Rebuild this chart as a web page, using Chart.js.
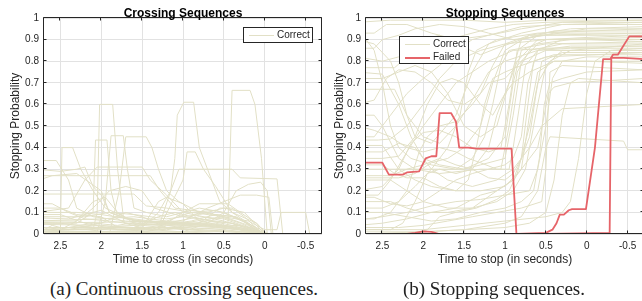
<!DOCTYPE html>
<html>
<head>
<meta charset="utf-8">
<script src="https://cdn.jsdelivr.net/npm/chart.js@4/dist/chart.umd.min.js"></script>
<style>
  body { margin: 0; width: 642px; height: 301px; background: #fff; position: relative; overflow: hidden;
         font-family: "Liberation Sans", Arial, sans-serif; }
  canvas { position: absolute; top: 0; }
  #crossChart { left: 0; }
  #stopChart { left: 322px; }
  .title { position: absolute; top: 6px; font-weight: bold; font-size: 12px; line-height: 14px; color: #000;
           transform: translateX(-50%); white-space: nowrap; }
  .legend { position: absolute; box-sizing: border-box; border: 1px solid #262626; background: #fff; }
  .legend .swatch { position: absolute; left: 5px; width: 25px; }
  .legend .txt { position: absolute; left: 33px; font-size: 10px; line-height: 12px; color: #262626; }
  .caption { position: absolute; top: 279px; font-family: "Liberation Serif", "DejaVu Serif", serif; font-size: 19px;
             line-height: 20px; color: #222; transform: translateX(-50%); white-space: nowrap; }
</style>
</head>
<body>
<canvas id="crossChart" width="324" height="272"></canvas>
<canvas id="stopChart" width="322" height="272"></canvas>

<div class="title" style="left:183px">Crossing Sequences</div>
<div class="title" style="left:505px">Stopping Sequences</div>

<div class="legend" style="left:243px; top:27px; width:70px; height:16px">
  <div class="swatch" style="top:7px; height:1px; background:rgb(226,224,198)"></div>
  <div class="txt" style="top:1px">Correct</div>
</div>
<div class="legend" style="left:399px; top:36px; width:70px; height:28px">
  <div class="swatch" style="top:7px; height:1px; background:rgb(226,224,198)"></div>
  <div class="txt" style="top:1px">Correct</div>
  <div class="swatch" style="top:20px; height:2px; background:rgb(230,100,105)"></div>
  <div class="txt" style="top:14px">Failed</div>
</div>

<div class="caption" style="left:184px">(a) Continuous crossing sequences.</div>
<div class="caption" style="left:494px">(b) Stopping sequences.</div>

<script>
// tick values
var xTicks = [2.5, 2, 1.5, 1, 0.5, 0, -0.5];
var yTicks = [0, 0.1, 0.2, 0.3, 0.4, 0.5, 0.6, 0.7, 0.8, 0.9, 1];

// crossing sequences, each one a list of [time, probability]
var crossCorrect = [
  [[2.8,0.02],[2.1,0.02],[2.05,0.1],[2.02,0.6],[1.86,0.6],[1.8,0.3],[1.72,0.05],[1.5,0.03],[1.0,0.03],[0.5,0.02],[0,0],[-0.7,0]],
  [[2.8,0.05],[2.3,0.05],[2.1,0.1],[2.07,0.435],[1.93,0.435],[1.88,0.2],[1.8,0.08],[1.4,0.06],[0.8,0.05],[0.3,0.03],[0.05,0],[-0.7,0]],
  [[2.8,0.01],[2.05,0.01],[1.95,0.15],[1.88,0.455],[1.73,0.455],[1.68,0.3],[1.6,0.12],[1.45,0.1],[1.2,0.08],[0.8,0.12],[0.5,0.1],[0.2,0.05],[0,0],[-0.7,0]],
  [[2.8,0],[1.9,0],[1.78,0.2],[1.7,0.45],[1.45,0.45],[1.38,0.4],[1.3,0.3],[1.2,0.2],[1.05,0.15],[0.8,0.1],[0.4,0.08],[0.1,0.03],[-0.05,0],[-0.7,0]],
  [[2.8,0],[2.5,0],[2.48,0.4],[2.35,0.4],[2.25,0.3],[2.1,0.2],[1.95,0.12],[1.6,0.06],[1.0,0.05],[0.4,0.03],[0,0],[-0.7,0]],
  [[2.8,0.03],[1.3,0.03],[1.15,0.2],[1.1,0.35],[1.07,0.55],[0.99,0.61],[0.87,0.61],[0.8,0.4],[0.65,0.25],[0.55,0.15],[0.4,0.1],[0.1,0.05],[-0.02,0],[-0.7,0]],
  [[2.8,0.01],[0.5,0.01],[0.45,0.05],[0.4,0.665],[0.18,0.665],[0.12,0.6],[0.04,0.35],[-0.03,0],[-0.7,0]],
  [[2.8,0.34],[2.55,0.34],[2.4,0.25],[2.3,0.12],[2.1,0.08],[1.7,0.06],[1.2,0.05],[0.6,0.04],[0.1,0.02],[0,0],[-0.7,0]],
  [[2.8,0.27],[1.4,0.27],[1.28,0.2],[1.1,0.12],[0.7,0.1],[0.3,0.05],[0,0],[-0.7,0]],
  [[2.8,0.245],[2.6,0.27],[2.3,0.28],[2.0,0.2],[1.9,0.1],[1.5,0.05],[0.6,0.05],[0.05,0],[-0.7,0]],
  [[2.8,0.185],[1.6,0.185],[1.45,0.13],[1.2,0.12],[0.9,0.1],[0.5,0.08],[0.2,0.04],[0,0],[-0.7,0]],
  [[2.8,0.1],[2.4,0.12],[2.2,0.25],[2.05,0.31],[1.5,0.31],[1.4,0.25],[1.2,0.18],[1.0,0.1],[0.5,0.06],[0,0],[-0.7,0]],
  [[2.8,0.02],[1.5,0.03],[1.3,0.1],[1.15,0.2],[1.05,0.3],[0.65,0.3],[0.4,0.3],[0.3,0.26],[-0.15,0.255],[-0.22,0],[-0.7,0]],
  [[2.8,0],[1.3,0.02],[1.0,0.25],[0.95,0.38],[0.85,0.38],[0.75,0.3],[0.6,0.22],[0.4,0.1],[0.2,0.05],[0,0],[-0.7,0]],
  [[2.8,0.05],[1.0,0.06],[0.7,0.12],[0.5,0.15],[0.3,0.18],[0.1,0.18],[-0.05,0.17],[-0.1,0],[-0.7,0]],
  [[2.8,0.02],[1.5,0.02],[1.0,0.05],[0.5,0.08],[0.2,0.06],[0,0.02],[-0.15,0.02],[-0.2,0.1],[-0.5,0.1],[-0.55,0],[-0.7,0]],
  [[2.8,0],[1.5,0],[1.2,0.05],[1.0,0.1],[0.8,0.14],[0.45,0.14],[0.3,0.1],[0.1,0.05],[-0.02,0],[-0.7,0]],
  [[2.8,0.08],[2.2,0.08],[1.9,0.1],[1.6,0.09],[1.2,0.07],[0.8,0.09],[0.5,0.12],[0.25,0.1],[0.05,0.02],[0,0],[-0.7,0]],
  [[2.8,0.06],[2.3,0.06],[2.1,0.12],[1.9,0.2],[1.7,0.22],[1.5,0.2],[1.35,0.12],[1.0,0.08],[0.4,0.05],[0,0],[-0.7,0]],
  [[2.8,0.1],[2.3,0.1],[2.0,0.09],[1.5,0.06],[1.0,0.05],[0.5,0.04],[0,0],[-0.7,0]],
  [[2.8,0.06],[2.0,0.07],[1.6,0.08],[1.2,0.06],[0.9,0.1],[0.6,0.11],[0.3,0.07],[0.05,0],[-0.7,0]],
  [[2.8,0.03],[2.4,0.03],[2.1,0.05],[1.8,0.04],[1.5,0.06],[1.2,0.05],[0.8,0.08],[0.5,0.07],[0.2,0.03],[0,0],[-0.7,0]],
  [[2.8,0.12],[2.5,0.12],[2.3,0.09],[2.0,0.08],[1.8,0.03],[1.2,0.02],[0.7,0.04],[0.3,0.02],[0,0],[-0.7,0]],
  [[2.8,0.02],[2.2,0.01],[1.8,0.03],[1.4,0.02],[1.0,0.04],[0.7,0.06],[0.4,0.05],[0.1,0.02],[0,0],[-0.7,0]],
  [[2.8,0],[2.6,0.04],[2.4,0.02],[2.0,0.05],[1.7,0.1],[1.5,0.08],[1.2,0.03],[0.8,0.02],[0.3,0.01],[0,0],[-0.7,0]],
  [[2.8,0.14],[2.6,0.14],[2.4,0.1],[2.2,0.07],[1.9,0.06],[1.5,0.04],[1.0,0.02],[0.5,0.01],[0,0],[-0.7,0]],
  [[2.8,0.075],[2.4,0.07],[2.0,0.11],[1.7,0.05],[1.3,0.04],[0.9,0.06],[0.6,0.09],[0.35,0.08],[0.1,0.02],[0,0],[-0.7,0]],
  [[2.8,0.01],[1.5,0.01],[1.1,0.03],[0.8,0.05],[0.55,0.12],[0.4,0.12],[0.25,0.08],[0.05,0.01],[0,0],[-0.7,0]],
  [[2.8,0.045],[2.0,0.04],[1.6,0.03],[1.3,0.08],[1.1,0.1],[0.8,0.07],[0.4,0.04],[0,0],[-0.7,0]],
  [[2.8,0.09],[2.5,0.09],[2.2,0.05],[1.8,0.02],[1.4,0.02],[1.0,0.01],[0.5,0],[-0.7,0]],
  [[2.8,0.02],[2.5,0.02],[2.3,0.06],[2.1,0.15],[1.95,0.17],[1.8,0.1],[1.6,0.05],[1.2,0.04],[0.6,0.03],[0.1,0.01],[0,0],[-0.7,0]],
  [[2.8,0.3],[2.5,0.29],[2.3,0.3],[2.2,0.31],[2.1,0.22],[2.0,0.18],[1.9,0.1],[1.7,0.07],[1.3,0.05],[0.8,0.04],[0.3,0.02],[0,0],[-0.7,0]],
  [[2.8,0],[1.6,0],[1.45,0.06],[1.3,0.15],[1.2,0.17],[1.0,0.14],[0.8,0.06],[0.4,0.03],[0.1,0],[-0.7,0]],
  [[2.8,0],[1.0,0.01],[0.7,0.05],[0.5,0.1],[0.35,0.2],[0.2,0.23],[0.05,0.24],[-0.03,0.2],[-0.08,0],[-0.7,0]],
  [[2.8,0.005],[1.8,0.01],[1.2,0.005],[0.6,0.015],[0.2,0.01],[0,0],[-0.7,0]],
  [[2.8,0.02],[2.2,0.035],[1.7,0.02],[1.3,0.03],[0.9,0.02],[0.5,0.03],[0.2,0.02],[0,0],[-0.7,0]],
  [[2.8,0.055],[2.5,0.05],[2.1,0.03],[1.6,0.04],[1.2,0.045],[0.7,0.035],[0.3,0.04],[0.1,0.02],[0,0],[-0.7,0]]
];

// stopping sequences that were classified right
var stopCorrect = [
  [[2.8,0.98],[2.4,0.99],[1.5,0.99],[1.0,0.98],[0.5,0.99],[-0.7,0.99]],
  [[2.8,0.93],[2.6,0.93],[2.45,0.97],[2.2,0.97],[1.9,0.93],[1.6,0.9],[1.2,0.92],[0.8,0.95],[0.3,0.98],[-0.7,0.98]],
  [[2.8,0.86],[2.6,0.86],[2.5,0.9],[2.3,0.92],[2.1,0.95],[1.8,0.97],[1.5,0.96],[1.2,0.93],[0.9,0.9],[0.5,0.92],[0,0.95],[-0.7,0.95]],
  [[2.8,0.77],[2.35,0.77],[2.2,0.82],[2.0,0.9],[1.8,0.92],[1.6,0.88],[1.3,0.83],[1.1,0.86],[0.8,0.9],[0.4,0.93],[-0.7,0.93]],
  [[2.8,0.75],[2.5,0.74],[2.3,0.6],[2.15,0.45],[2.0,0.35],[1.8,0.32],[1.5,0.3],[1.2,0.35],[1.0,0.45],[0.9,0.7],[0.8,0.85],[0.5,0.9],[0,0.9],[-0.7,0.89]],
  [[2.8,0.67],[2.35,0.67],[2.2,0.55],[2.0,0.45],[1.8,0.42],[1.6,0.5],[1.4,0.62],[1.2,0.75],[1.0,0.8],[0.6,0.85],[0.2,0.86],[-0.7,0.86]],
  [[2.8,0.55],[2.6,0.55],[2.5,0.5],[2.3,0.35],[2.1,0.3],[1.8,0.28],[1.3,0.3],[1.05,0.3],[0.95,0.5],[0.85,0.75],[0.7,0.85],[0.3,0.88],[-0.7,0.88]],
  [[2.8,0.435],[2.55,0.435],[2.4,0.44],[2.2,0.5],[2.0,0.6],[1.8,0.72],[1.6,0.8],[1.3,0.85],[1.0,0.88],[0.5,0.9],[0,0.91],[-0.7,0.92]],
  [[2.8,0.41],[2.5,0.41],[2.3,0.3],[2.1,0.25],[1.9,0.22],[1.6,0.2],[1.3,0.2],[1.0,0.22],[0.8,0.3],[0.7,0.55],[0.6,0.75],[0.4,0.8],[0,0.8],[-0.7,0.79]],
  [[2.8,0.3],[1.5,0.3],[1.3,0.32],[1.0,0.35],[0.9,0.55],[0.8,0.8],[0.6,0.88],[0.2,0.9],[-0.7,0.9]],
  [[2.8,0.26],[2.3,0.26],[2.1,0.28],[1.9,0.33],[1.7,0.35],[1.5,0.4],[1.3,0.5],[1.15,0.7],[1.0,0.85],[0.7,0.92],[0.2,0.95],[-0.7,0.96]],
  [[2.8,0.25],[2.4,0.25],[2.2,0.2],[2.0,0.15],[1.7,0.12],[1.4,0.12],[1.1,0.15],[0.9,0.2],[0.75,0.3],[0.6,0.6],[0.5,0.78],[0.3,0.85],[-0.7,0.85]],
  [[2.8,0.18],[2.55,0.18],[2.4,0.25],[2.2,0.38],[2.0,0.5],[1.8,0.6],[1.6,0.7],[1.4,0.75],[1.2,0.8],[0.9,0.85],[0.5,0.86],[-0.7,0.87]],
  [[2.8,0.15],[2.4,0.15],[2.2,0.12],[2.0,0.1],[1.7,0.1],[1.4,0.12],[1.1,0.2],[0.9,0.25],[0.8,0.35],[0.72,0.6],[0.65,0.8],[0.4,0.83],[-0.7,0.83]],
  [[2.8,0.065],[2.5,0.08],[2.2,0.1],[1.9,0.13],[1.6,0.15],[1.3,0.16],[1.0,0.18],[0.7,0.2],[0.6,0.3],[0.5,0.5],[0.42,0.72],[0.3,0.8],[0,0.82],[-0.7,0.82]],
  [[2.8,0.03],[2.3,0.03],[2.0,0.04],[1.7,0.06],[1.4,0.08],[1.1,0.1],[0.8,0.12],[0.55,0.15],[0.5,0.3],[0.47,0.6],[0.45,0.75],[0.3,0.78],[-0.7,0.76]],
  [[2.8,0.01],[2.0,0.01],[1.5,0.02],[1.0,0.03],[0.7,0.05],[0.5,0.1],[0.4,0.25],[0.3,0.55],[0.2,0.7],[0.1,0.72],[-0.7,0.7]],
  [[2.8,0],[2.0,0.01],[1.5,0.02],[1.0,0.05],[0.8,0.08],[0.6,0.2],[0.5,0.4],[0.45,0.45],[-0.45,0.43],[-0.5,0.39],[-0.7,0.39]],
  [[2.8,0.38],[2.5,0.38],[2.3,0.42],[2.1,0.4],[1.9,0.3],[1.7,0.25],[1.4,0.22],[1.1,0.25],[0.9,0.3],[0.7,0.4],[0.55,0.5],[0.3,0.58],[-0.7,0.6]],
  [[2.8,0.02],[2.0,0.02],[1.5,0.04],[1.0,0.06],[0.5,0.08],[0.3,0.1],[0.2,0.15],[0.1,0.35],[0,0.65],[-0.1,0.8],[-0.3,0.85],[-0.7,0.86]],
  [[2.8,0.9],[2.6,0.88],[2.4,0.8],[2.3,0.7],[2.2,0.55],[2.1,0.45],[1.9,0.42],[1.6,0.55],[1.4,0.75],[1.2,0.88],[0.8,0.93],[0.3,0.97],[-0.7,0.97]],
  [[2.8,0.72],[2.5,0.72],[2.3,0.75],[2.1,0.78],[1.9,0.75],[1.7,0.65],[1.5,0.5],[1.3,0.45],[1.1,0.5],[0.95,0.7],[0.8,0.9],[0.4,0.94],[-0.7,0.94]],
  [[2.8,0.45],[2.6,0.45],[2.4,0.55],[2.2,0.65],[2.0,0.72],[1.8,0.78],[1.6,0.85],[1.4,0.9],[1.2,0.92],[0.8,0.96],[0.3,0.97],[-0.7,0.98]],
  [[2.8,0.35],[2.5,0.35],[2.3,0.36],[2.1,0.45],[1.95,0.6],[1.8,0.7],[1.65,0.72],[1.5,0.7],[1.3,0.6],[1.15,0.55],[1.0,0.65],[0.85,0.8],[0.6,0.9],[-0.7,0.91]],
  [[2.8,0.2],[2.5,0.22],[2.3,0.3],[2.15,0.42],[2.0,0.47],[1.8,0.48],[1.6,0.45],[1.4,0.4],[1.2,0.38],[1.05,0.4],[0.95,0.6],[0.85,0.85],[0.6,0.92],[-0.7,0.93]],
  [[2.8,0.12],[2.5,0.12],[2.3,0.15],[2.1,0.22],[1.9,0.3],[1.7,0.4],[1.55,0.55],[1.45,0.75],[1.35,0.85],[1.1,0.9],[0.6,0.93],[-0.7,0.95]],
  [[2.8,0.07],[2.6,0.07],[2.4,0.1],[2.2,0.2],[2.05,0.38],[1.95,0.45],[1.8,0.5],[1.6,0.52],[1.4,0.6],[1.2,0.7],[1.0,0.72],[0.8,0.8],[0.5,0.85],[-0.7,0.85]],
  [[2.8,0.02],[2.4,0.02],[2.25,0.05],[2.1,0.15],[1.95,0.28],[1.8,0.3],[1.6,0.28],[1.4,0.3],[1.2,0.4],[1.1,0.55],[1.0,0.65],[0.9,0.7],[0.7,0.75],[0.4,0.8],[-0.7,0.8]],
  [[2.8,0],[2.1,0],[1.95,0.02],[1.8,0.08],[1.6,0.1],[1.35,0.12],[1.1,0.16],[0.95,0.2],[0.85,0.28],[0.7,0.5],[0.6,0.7],[0.45,0.8],[0.2,0.85],[-0.7,0.88]],
  [[2.8,0.6],[2.6,0.62],[2.45,0.72],[2.3,0.76],[2.1,0.75],[1.9,0.7],[1.7,0.62],[1.5,0.6],[1.3,0.65],[1.15,0.78],[1.0,0.88],[0.7,0.92],[-0.7,0.92]],
  [[2.8,0.9],[2.7,0.9],[2.6,0.85],[2.5,0.7],[2.4,0.5],[2.3,0.4],[2.15,0.35],[1.9,0.32],[1.6,0.3],[1.4,0.35],[1.25,0.45],[1.15,0.6],[1.05,0.78],[0.95,0.85],[0.5,0.88],[-0.7,0.89]],
  [[2.8,0.32],[2.5,0.32],[2.35,0.28],[2.2,0.26],[2.0,0.26],[1.8,0.22],[1.6,0.2],[1.45,0.25],[1.35,0.4],[1.25,0.6],[1.15,0.72],[1.0,0.75],[0.8,0.78],[0.5,0.82],[-0.7,0.84]],
  [[2.8,0.17],[2.6,0.17],[2.4,0.14],[2.2,0.13],[2.0,0.15],[1.8,0.2],[1.6,0.25],[1.4,0.28],[1.2,0.3],[1.0,0.32],[0.9,0.35],[0.8,0.45],[0.72,0.7],[0.6,0.85],[0.3,0.9],[-0.7,0.9]],
  [[2.8,0.82],[2.5,0.8],[2.3,0.82],[2.1,0.85],[1.9,0.88],[1.7,0.9],[1.5,0.92],[1.2,0.95],[0.9,0.97],[0.5,0.98],[-0.7,0.99]],
  [[2.8,0.5],[2.6,0.48],[2.4,0.45],[2.2,0.4],[2.0,0.38],[1.8,0.4],[1.6,0.38],[1.45,0.35],[1.3,0.33],[1.1,0.3],[0.95,0.3],[0.9,0.4],[0.82,0.6],[0.75,0.78],[0.6,0.85],[0.2,0.87],[-0.7,0.87]],
  [[2.8,0.27],[2.4,0.27],[2.2,0.3],[2.0,0.32],[1.8,0.35],[1.6,0.32],[1.4,0.3],[1.2,0.26],[1.0,0.25],[0.9,0.28],[0.8,0.35],[0.7,0.45],[0.62,0.65],[0.55,0.8],[0.3,0.84],[-0.7,0.84]],
  [[2.8,0.1],[2.5,0.1],[2.2,0.08],[1.9,0.06],[1.6,0.07],[1.3,0.1],[1.0,0.12],[0.8,0.15],[0.65,0.2],[0.58,0.35],[0.52,0.6],[0.45,0.7],[0.3,0.72],[0,0.75],[-0.7,0.76]],
  [[2.8,0.04],[2.5,0.05],[2.2,0.07],[1.9,0.1],[1.6,0.12],[1.3,0.18],[1.1,0.2],[0.9,0.25],[0.8,0.3],[0.7,0.35],[0.6,0.4],[0.52,0.55],[0.47,0.65],[0.4,0.68],[0.2,0.7],[-0.7,0.72]]
];

// stopping sequences that failed
var stopFailed = [
  [[2.8,0.33],[2.5,0.33],[2.42,0.275],[2.25,0.275],[2.2,0.285],[2.05,0.29],[1.97,0.35],[1.9,0.36],[1.84,0.36],[1.8,0.56],[1.66,0.56],[1.6,0.52],[1.56,0.4],[1.45,0.4],[1.35,0.395],[0.92,0.395],[0.86,0],[0.5,0.005],[0.42,0.02],[0.37,0.05],[0.33,0.09],[0.28,0.09],[0.22,0.11],[0.18,0.115],[0.01,0.115],[-0.1,0.4],[-0.2,0.81],[-0.29,0.81],[-0.32,0.83],[-0.38,0.83],[-0.52,0.915],[-0.7,0.915]],
  [[2.8,0],[2.2,0],[2.1,0.005],[2.0,0.012],[1.9,0.01],[1.8,0],[0.5,0],[-0.28,0.005],[-0.3,0.815],[-0.45,0.815],[-0.7,0.81]]
];

var axisInk = '#262626';
var gridInk = '#e2e2e2';
var correctColor = 'rgb(226,224,198)';
var failedColor = 'rgb(230,100,105)';
var fontFamily = '"Liberation Sans", Arial, sans-serif';

var matlabBox = {
    id: 'matlabBox',
    afterDraw: function (chart) {
        var ctx = chart.ctx, a = chart.chartArea, sx = chart.scales.x, sy = chart.scales.y;
        var L = Math.round(a.left) - 0.5, R = Math.round(a.right) - 0.5;
        var T = Math.round(a.top) - 0.5, B = Math.round(a.bottom) - 0.5;
        ctx.save();
        ctx.strokeStyle = axisInk;
        ctx.lineWidth = 1;
        ctx.beginPath();
        ctx.rect(L, T, R - L, B - T);
        sx.ticks.forEach(function (t) {
            var px = Math.round(sx.getPixelForValue(t.value)) - 0.5;
            ctx.moveTo(px, B); ctx.lineTo(px, B - 3);
            ctx.moveTo(px, T); ctx.lineTo(px, T + 3);
        });
        sy.ticks.forEach(function (t) {
            var py = Math.round(sy.getPixelForValue(t.value)) - 0.5;
            ctx.moveTo(L, py); ctx.lineTo(L + 3, py);
            ctx.moveTo(R, py); ctx.lineTo(R - 3, py);
        });
        ctx.stroke();
        ctx.restore();
    }
};

function toPoints(seq) {
    return seq.map(function (p) { return {x: p[0], y: p[1]}; });
}

function drawPanel(id, correct, failed, xTitle, rightPad, yTitlePad) {
    var datasets = [];
    failed.forEach(function (s) {
        datasets.push({label: 'Failed', data: toPoints(s), borderColor: failedColor, borderWidth: 1.8});
    });
    correct.forEach(function (s) {
        datasets.push({label: 'Correct', data: toPoints(s), borderColor: correctColor, borderWidth: 1});
    });

    new Chart(document.getElementById(id), {
        type: 'line',
        data: {datasets: datasets},
        options: {
            responsive: false,
            animation: false,
            events: [],
            layout: {padding: {top: 18, right: rightPad, left: 0, bottom: 0}},
            elements: {point: {radius: 0}, line: {tension: 0, borderJoinStyle: 'round'}},
            plugins: {legend: {display: false}, tooltip: {enabled: false}},
            scales: {
                x: {
                    type: 'linear', reverse: true, min: -0.7, max: 2.7,
                    afterBuildTicks: function (s) { s.ticks = xTicks.map(function (v) { return {value: v}; }); },
                    afterFit: function (s) { s.height = 38; },
                    grid: {color: gridInk, drawTicks: false},
                    border: {display: false},
                    ticks: {color: axisInk, font: {family: fontFamily, size: 10}, padding: 6, maxRotation: 0, autoSkip: false,
                            callback: function (v) { return String(v); }},
                    title: {display: true, text: xTitle, color: axisInk, font: {family: fontFamily, size: 12},
                            padding: {top: 0, bottom: 5}}
                },
                y: {
                    type: 'linear', min: 0, max: 1,
                    afterBuildTicks: function (s) { s.ticks = yTicks.map(function (v) { return {value: v}; }); },
                    afterFit: function (s) { s.width = 44; },
                    grid: {color: gridInk, drawTicks: false},
                    border: {display: false},
                    ticks: {color: axisInk, font: {family: fontFamily, size: 10}, padding: 5, autoSkip: false,
                            callback: function (v) { return String(v); }},
                    title: {display: true, text: 'Stopping Probability', color: axisInk, font: {family: fontFamily, size: 12},
                            padding: {top: yTitlePad, bottom: 0}}
                }
            }
        },
        plugins: [matlabBox]
    });
}

drawPanel('crossChart', crossCorrect, [], 'Time to cross (in seconds)', 2, 8);
drawPanel('stopChart', stopCorrect, stopFailed, 'Time to stop (in seconds)', 0, 10);
</script>
</body>
</html>
